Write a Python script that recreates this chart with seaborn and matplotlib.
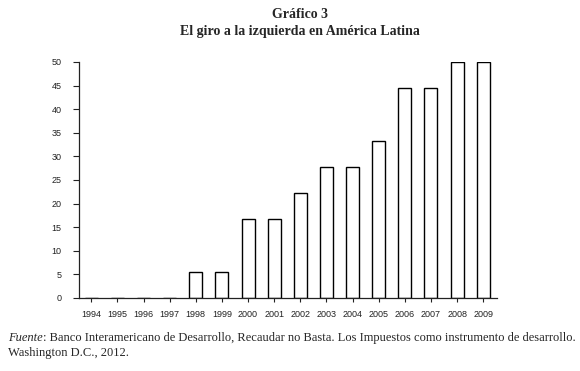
import seaborn as sns
import pandas as pd
import matplotlib.pyplot as plt

years = ['1994', '1995', '1996', '1997', '1998', '1999', '2000', '2001',
         '2002', '2003', '2004', '2005', '2006', '2007', '2008', '2009']
pct_left = [0, 0, 0, 0, 5.56, 5.56, 16.67, 16.67,
            22.22, 27.78, 27.78, 33.33, 44.44, 44.44, 50.0, 50.0]
y_ticks = [0, 5, 10, 15, 20, 25, 30, 35, 40, 45, 50]

df = pd.DataFrame({'year': years, 'pct': pct_left})

sns.set_style("white")
plt.rcParams['font.family'] = ['Liberation Sans', 'DejaVu Sans']

fig = plt.figure(figsize=(5.8, 3.71), dpi=100)
ax = fig.add_axes([0.1362, 0.1968, 0.7208, 0.6362])

sns.barplot(data=df, x='year', y='pct', ax=ax, color='white',
            edgecolor='black', linewidth=1.0, width=0.5, saturation=1)

ax.set_xlim(-0.47, 15.53)
ax.set_ylim(0, 50)
ax.set_yticks(y_ticks)
ax.set_xlabel('')
ax.set_ylabel('')
sns.despine(ax=ax)
for s in ['left', 'bottom']:
    ax.spines[s].set_linewidth(0.9)
    ax.spines[s].set_color('#222222')
ax.tick_params(bottom=True, left=True, direction='out', width=0.8,
               labelsize=6.5, colors='#222222')
ax.tick_params(axis='x', length=3, pad=6)
ax.tick_params(axis='y', length=4.5, pad=8)

serif = ['Liberation Serif', 'DejaVu Serif']
fig.text(0.517, 0.962, 'Gráfico 3', ha='center', va='center',
         fontsize=10, fontweight='bold', family=serif)
fig.text(0.517, 0.915, 'El giro a la izquierda en América Latina', ha='center',
         va='center', fontsize=10, fontweight='bold', family=serif)

# footnote: italic "Fuente" followed by plain text on the same baseline
t1 = fig.text(0.014, 0.080, 'Fuente', ha='left', va='baseline', fontsize=9,
              style='italic', family=serif)
fig.canvas.draw()
bb = t1.get_window_extent()
fig.text(bb.x1 / fig.bbox.width, 0.080,
         ': Banco Interamericano de Desarrollo, Recaudar no Basta. '
         'Los Impuestos como instrumento de desarrollo.',
         ha='left', va='baseline', fontsize=9, family=serif)
fig.text(0.014, 0.040, 'Washington D.C., 2012.', ha='left', va='baseline',
         fontsize=9, family=serif)

fig.savefig('out.png', dpi=100)
